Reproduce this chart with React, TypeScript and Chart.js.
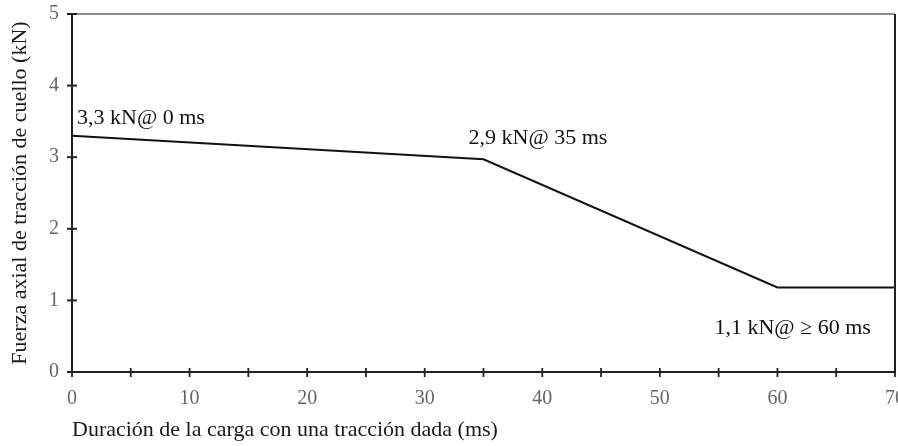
import React, { useEffect, useRef } from "react";
import { Chart, registerables } from "chart.js";

Chart.register(...registerables);

// ---- data ----
const durationMs = [0, 35, 60, 70];
const forceKN = [3.3, 2.97, 1.18, 1.18];
const xTickLabels = [0, 10, 20, 30, 40, 50, 60, 70];
const xTickMarks = [0, 5, 10, 15, 20, 25, 30, 35, 40, 45, 50, 55, 60, 65, 70];
const yTickLabels = [0, 1, 2, 3, 4, 5];
const annotationTexts = ["3,3 kN@ 0 ms", "2,9 kN@ 35 ms", "1,1 kN@ \u2265 60 ms"];
const annotationAnchorIndex = [0, 1, 2];

const xTitle = "Duración de la carga con una tracción dada (ms)";
const yTitle = "Fuerza axial de tracción de cuello (kN)";

const FONT = "'Liberation Serif', 'DejaVu Serif', serif";

// pixel offsets for annotation placement (style only)
const annotationOffsets = [
  { dx: 5, dy: -12 },
  { dx: -15, dy: -15 },
  { dx: -63, dy: 46 },
];

const framePlugin = {
  id: "frame",
  afterDraw(chart: any) {
    const { ctx, chartArea, scales } = chart;
    const xs = scales.x;
    const ys = scales.y;
    ctx.save();
    // top border
    ctx.strokeStyle = "#666";
    ctx.lineWidth = 1.5;
    ctx.beginPath();
    ctx.moveTo(chartArea.left, chartArea.top);
    ctx.lineTo(chartArea.right, chartArea.top);
    ctx.stroke();
    // right border
    ctx.strokeStyle = "#222";
    ctx.lineWidth = 2;
    ctx.beginPath();
    ctx.moveTo(chartArea.right, chartArea.top);
    ctx.lineTo(chartArea.right, chartArea.bottom);
    ctx.stroke();
    // crossing tick marks
    ctx.strokeStyle = "#222";
    ctx.lineWidth = 2;
    const yAxisX = chartArea.left;
    yTickLabels.forEach((v) => {
      const py = ys.getPixelForValue(v);
      ctx.beginPath();
      ctx.moveTo(yAxisX - 5, py);
      ctx.lineTo(yAxisX + 5, py);
      ctx.stroke();
    });
    const xAxisY = chartArea.bottom;
    ctx.lineWidth = 1.8;
    xTickMarks.forEach((v) => {
      const px = xs.getPixelForValue(v);
      ctx.beginPath();
      ctx.moveTo(px, xAxisY - 4);
      ctx.lineTo(px, xAxisY + 5);
      ctx.stroke();
    });
    // annotations
    ctx.fillStyle = "#111";
    ctx.font = `22px ${FONT}`;
    ctx.textAlign = "left";
    ctx.textBaseline = "alphabetic";
    annotationTexts.forEach((t, i) => {
      const idx = annotationAnchorIndex[i];
      const px = xs.getPixelForValue(durationMs[idx]);
      const py = ys.getPixelForValue(forceKN[idx]);
      const off = annotationOffsets[i];
      ctx.fillText(t, px + off.dx, py + off.dy);
    });
    ctx.restore();
  },
};

export default function App() {
  const canvasRef = useRef<HTMLCanvasElement | null>(null);

  useEffect(() => {
    document.body.style.margin = "0";
    const canvas = canvasRef.current;
    if (!canvas) return;
    const chart = new Chart(canvas, {
      type: "line",
      data: {
        datasets: [
          {
            data: durationMs.map((x, i) => ({ x, y: forceKN[i] })),
            borderColor: "#111",
            borderWidth: 2,
            pointRadius: 0,
            tension: 0,
            fill: false,
          },
        ],
      },
      options: {
        responsive: false,
        animation: false,
        layout: { padding: { top: 14, right: 3, left: 0, bottom: 0 } },
        plugins: {
          legend: { display: false },
          tooltip: { enabled: false },
        },
        scales: {
          x: {
            type: "linear",
            min: 0,
            max: 70,
            afterFit(scale: any) {
              scale.height = 74;
              scale.paddingLeft = 0;
              scale.paddingRight = 0;
            },
            afterBuildTicks(scale: any) {
              scale.ticks = xTickLabels.map((v) => ({ value: v }));
            },
            grid: { display: false, drawTicks: false },
            border: { display: true, color: "#222", width: 2 },
            ticks: {
              padding: 15,
              color: "#666",
              font: { family: FONT, size: 20 },
              maxRotation: 0,
              autoSkip: false,
            },
            title: {
              display: true,
              text: xTitle,
              align: "start",
              color: "#1a1a1a",
              font: { family: FONT, size: 22 },
              padding: { top: 0, bottom: 3 },
            },
          },
          y: {
            type: "linear",
            min: 0,
            max: 5,
            afterFit(scale: any) {
              scale.width = 72;
              scale.paddingTop = 0;
              scale.paddingBottom = 0;
            },
            afterBuildTicks(scale: any) {
              scale.ticks = yTickLabels.map((v) => ({ value: v }));
            },
            grid: { display: false, drawTicks: false },
            border: { display: true, color: "#222", width: 2 },
            ticks: {
              padding: 13,
              color: "#666",
              font: { family: FONT, size: 20 },
              autoSkip: false,
            },
            title: {
              display: true,
              text: yTitle,
              color: "#1a1a1a",
              font: { family: FONT, size: 22 },
              padding: { top: 7, bottom: 0 },
            },
          },
        },
      } as any,
      plugins: [framePlugin],
    });
    return () => chart.destroy();
  }, []);

  return (
    <div style={{ width: 898, height: 446 }}>
      <canvas ref={canvasRef} width={898} height={446} />
    </div>
  );
}
